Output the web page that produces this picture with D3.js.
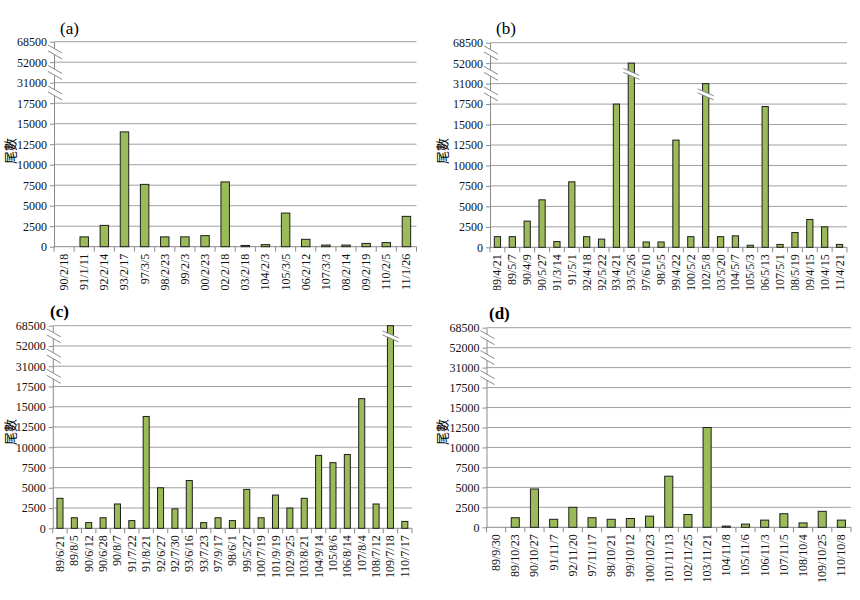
<!DOCTYPE html>
<html><head><meta charset="utf-8">
<script src="https://cdn.jsdelivr.net/npm/d3@7"></script>
<style>body{margin:0;background:#fff}svg{display:block}</style>
</head><body>
<svg id="c" width="860" height="600"></svg>
<script>
// ---- data ----
const yTicks = [0,2500,5000,7500,10000,12500,15000,17500,31000,52000,68500];

const catsA = ["90/2/18","91/1/11","92/2/14","93/2/17","97/3/5","98/2/23","99/2/3","100/2/23","102/2/18","103/2/18","104/2/3","105/3/5","106/2/12","107/3/3","108/2/14","109/2/19","110/2/5","111/1/26"];
const valsA = [0,1200,2600,14000,7600,1200,1200,1350,7900,150,250,4100,900,200,200,400,500,3700];

const catsB = ["89/4/21","89/5/7","90/4/9","90/5/27","91/3/14","91/5/1","92/4/18","92/5/22","93/4/21","93/5/26","97/6/10","98/5/5","99/4/22","100/5/2","102/5/8","103/5/20","104/5/7","105/5/3","106/5/13","107/5/1","108/5/19","109/4/15","110/4/15","111/4/21"];
const valsB = [1300,1300,3200,5800,700,8000,1300,1000,17500,52000,650,650,13100,1300,31000,1300,1400,250,17200,350,1800,3400,2500,350];

const catsC = ["89/6/21","89/8/5","90/6/12","90/6/28","90/8/7","91/7/22","91/8/21","92/6/27","92/7/30","93/6/16","93/7/23","97/9/17","98/6/1","99/5/27","100/7/19","101/9/19","102/9/25","103/8/21","104/9/14","105/8/6","106/8/14","107/8/4","108/7/12","109/7/18","110/7/17"];
const valsC = [3700,1300,700,1300,3000,950,13800,5000,2400,5900,700,1300,950,4800,1300,4100,2500,3700,9000,8100,9100,16000,3000,68500,850];

const catsD = ["89/9/30","89/10/23","90/10/27","91/11/7","92/11/20","97/11/17","98/10/21","99/10/12","100/10/23","101/11/13","102/11/25","103/11/21","104/11/8","105/11/6","106/11/3","107/11/5","108/10/4","109/10/25","110/10/8"];
const valsD = [0,1200,4800,1000,2500,1200,1000,1100,1400,6400,1600,12500,150,400,900,1700,550,2000,900];

const panelLabels = ["(a)","(b)","(c)","(d)"];
const yTitle = "尾數";

// ---- layout ----
const panels = [
  {cats:catsA, vals:valsA, x0:54, x1:416.5, y0:246.7, y1:41.7, clipY:290, lx:60, ly:34, bold:false, tx:9.5, ty:151},
  {cats:catsB, vals:valsB, x0:490, x1:847, y0:247.3, y1:42.7, clipY:290, lx:496, ly:34, bold:false, tx:441, ty:151},
  {cats:catsC, vals:valsC, x0:52.8, x1:412, y0:528.3, y1:325.7, clipY:600, lx:50, ly:317, bold:true, tx:9.5, ty:432},
  {cats:catsD, vals:valsD, x0:486.5, x1:851, y0:527.3, y1:327.7, clipY:600, lx:489, ly:319, bold:true, tx:441, ty:432}
];

const svg = d3.select("#c");
svg.append("rect").attr("width",860).attr("height",600).attr("fill","#fff");
const defs = svg.append("defs");
const serif = "'Liberation Serif', serif";
const gridCol = "#a0a0a0", axisCol = "#8a8a8a";

panels.forEach((p,pi) => {
  const g = svg.append("g");
  const step = (p.y0 - p.y1) / (yTicks.length - 1);
  const y = d3.scaleLinear().domain(yTicks).range(yTicks.map((d,i) => p.y0 - i*step));
  const x = d3.scaleBand().domain(p.cats).range([p.x0, p.x1]).paddingInner(0).paddingOuter(0);
  const bw = x.bandwidth() * 0.42;

  // gridlines
  g.append("g").selectAll("line").data(yTicks.slice(1)).join("line")
    .attr("x1", p.x0).attr("x2", p.x1).attr("y1", d => y(d)).attr("y2", d => y(d))
    .attr("stroke", gridCol).attr("stroke-width", 1);

  // y axis
  const ya = g.append("g").attr("transform", `translate(${p.x0},0)`)
    .call(d3.axisLeft(y).tickValues(yTicks).tickSize(4).tickPadding(3).tickSizeOuter(0).tickFormat(d => String(d)));
  ya.attr("font-family", serif).attr("font-size", 12);
  ya.select(".domain").attr("stroke", axisCol);
  ya.selectAll(".tick line").attr("stroke", axisCol);
  ya.selectAll("text").attr("font-family", serif).attr("font-size", 12).attr("fill", "#111");

  // x axis baseline + boundary ticks
  g.append("line").attr("x1", p.x0).attr("x2", p.x1).attr("y1", y(0)).attr("y2", y(0)).attr("stroke", axisCol);
  const bounds = p.cats.map(c => x(c)).concat([x(p.cats[p.cats.length-1]) + x.bandwidth()]);
  g.append("g").selectAll("line").data(bounds).join("line")
    .attr("x1", d => d).attr("x2", d => d).attr("y1", y(0)).attr("y2", y(0) + 5).attr("stroke", axisCol);

  // bars
  const data = p.cats.map((c,i) => ({c, v:p.vals[i]}));
  g.append("g").selectAll("rect").data(data.filter(d => d.v > 0)).join("rect")
    .attr("x", d => x(d.c) + (x.bandwidth() - bw)/2)
    .attr("width", bw)
    .attr("y", d => y(d.v))
    .attr("height", d => y(0) - y(d.v))
    .attr("fill", "#9bbb59").attr("stroke", "#1e1e1e").attr("stroke-width", 1);

  // bar breaks (values above 17500)
  const bb = g.append("g");
  data.filter(d => d.v > 17500).forEach(d => {
    const idx = yTicks.indexOf(d.v);
    const ym = (y(yTicks[idx]) + y(yTicks[idx-1])) / 2 + 1;
    const cx = x(d.c) + x.bandwidth()/2;
    const l = cx - 8, r = cx + 8;
    bb.append("path").attr("d", `M${l},${ym-6}L${r},${ym+1}L${r},${ym+5}L${l},${ym-2}Z`).attr("fill", "#fff");
    bb.append("line").attr("x1", l).attr("y1", ym-6).attr("x2", r).attr("y2", ym+1).attr("stroke", axisCol);
    bb.append("line").attr("x1", l).attr("y1", ym-2).attr("x2", r).attr("y2", ym+5).attr("stroke", axisCol);
  });

  // axis breaks between 17500..31000..52000..68500
  const ab = g.append("g");
  for (let i = 7; i < yTicks.length - 1; i++) {
    const ym = (y(yTicks[i]) + y(yTicks[i+1])) / 2;
    const l = p.x0 - 6, r = p.x0 + 8;
    ab.append("path").attr("d", `M${l},${ym-7}L${r},${ym+1}L${r},${ym+7}L${l},${ym-1}Z`).attr("fill", "#fff");
    ab.append("line").attr("x1", l).attr("y1", ym-7).attr("x2", r).attr("y2", ym+1).attr("stroke", axisCol);
    ab.append("line").attr("x1", l).attr("y1", ym-1).attr("x2", r).attr("y2", ym+7).attr("stroke", axisCol);
  }

  // category labels
  defs.append("clipPath").attr("id", "clip" + pi).append("rect")
    .attr("x", 0).attr("y", 0).attr("width", 860).attr("height", p.clipY);
  const ty0 = y(0) + 7;
  g.append("g").attr("clip-path", `url(#clip${pi})`).selectAll("text").data(p.cats).join("text")
    .attr("x", d => x(d) + x.bandwidth()/2).attr("y", ty0)
    .attr("transform", d => `rotate(-90,${x(d) + x.bandwidth()/2},${ty0})`)
    .attr("text-anchor", "end").attr("dominant-baseline", "central")
    .attr("font-family", serif).attr("font-size", 12).attr("fill", "#111")
    .text(d => d);

  // panel label
  g.append("text").attr("x", p.lx).attr("y", p.ly).text(panelLabels[pi])
    .attr("font-family", serif).attr("font-size", 17).attr("font-weight", p.bold ? "bold" : "normal").attr("fill", "#000");

  // y title
  g.append("text").attr("x", p.tx).attr("y", p.ty)
    .attr("transform", `rotate(-90,${p.tx},${p.ty})`)
    .attr("text-anchor", "middle").attr("dominant-baseline", "central")
    .attr("font-family", "'Noto Sans CJK TC','Noto Sans CJK SC',sans-serif").attr("font-size", 13).attr("fill", "#000")
    .text(yTitle);
});
</script>
</body></html>
